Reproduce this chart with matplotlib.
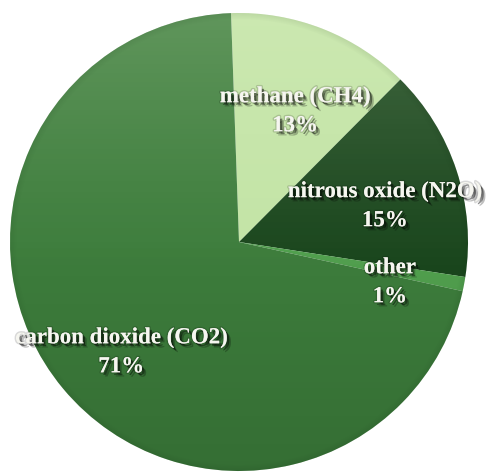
import numpy as np
import matplotlib.pyplot as plt
from matplotlib import patheffects as pe
from matplotlib.colors import to_rgb
from matplotlib.patches import Circle

# Greenhouse gas shares (percent)
gases = ["methane (CH4)", "nitrous oxide (N2O)", "other", "carbon dioxide (CO2)"]
shares = [13, 15, 1, 71]
colors = ["#c3e4a6", "#1a461d", "#51a04e", "#3d7d3c"]

W, H = 488, 474
fig = plt.figure(figsize=(W / 100, H / 100), dpi=100)
fig.patch.set_facecolor("white")
ax = fig.add_axes([0, 0, 1, 1])

cx, cy, r = 239, 232, 229

shadow = [
    pe.SimplePatchShadow(offset=(3.0, -3.0), shadow_rgbFace="black", alpha=0.25),
    pe.SimplePatchShadow(offset=(1.8, -1.8), shadow_rgbFace="black", alpha=0.45),
    pe.Stroke(linewidth=2.0, foreground=(0, 0, 0, 0.15)),
    pe.Normal(),
]

labels = [f"{g}\n{s}%" for g, s in zip(gases, shares)]
wedges, texts = ax.pie(
    shares,
    labels=labels,
    colors=colors,
    startangle=92,
    counterclock=False,
    center=(cx, cy),
    radius=r,
    labeldistance=0.67,
    frame=True,
    wedgeprops=dict(linewidth=0),
    textprops=dict(
        ha="center", va="center", multialignment="center",
        color="#f6f6f0", fontsize=16.5, fontweight="bold",
        family=["Liberation Serif", "DejaVu Serif"], linespacing=1.5,
        path_effects=shadow, zorder=5,
    ),
)
# labels sit slightly below the radial anchor
for t in texts:
    x, y = t.get_position()
    t.set_position((x, y - 12))

# soft lighting: lighter toward the top, darker toward the bottom and rim
yy, xx = np.mgrid[0:H, 0:W] + 0.5
tt = (yy - (cy - r)) / (2 * r)
rr = np.hypot(xx - cx, yy - cy) / r
a_light = np.clip((tt - 0.4) / 0.6, 0, 1) ** 1.3 * 0.2
a_dark = np.clip((0.5 - tt) / 0.5, 0, 1) * 0.16 + np.clip((rr - 0.97) / 0.03, 0, 1) * 0.08

light = np.zeros((H, W, 4))
light[..., :3] = to_rgb("#eefadc")
light[..., 3] = a_light
dark = np.zeros((H, W, 4))
dark[..., :3] = to_rgb("#0a200a")
dark[..., 3] = np.clip(a_dark, 0, 1)

for img in (light, dark):
    im = ax.imshow(img, extent=(0, W, 0, H), origin="lower", zorder=2,
                   interpolation="bilinear")
    im.set_clip_path(Circle((cx, cy), r, transform=ax.transData))

ax.set_xlim(0, W)
ax.set_ylim(0, H)
ax.set_aspect("equal")
ax.axis("off")

fig.savefig("out.png", dpi=100, facecolor="white")
